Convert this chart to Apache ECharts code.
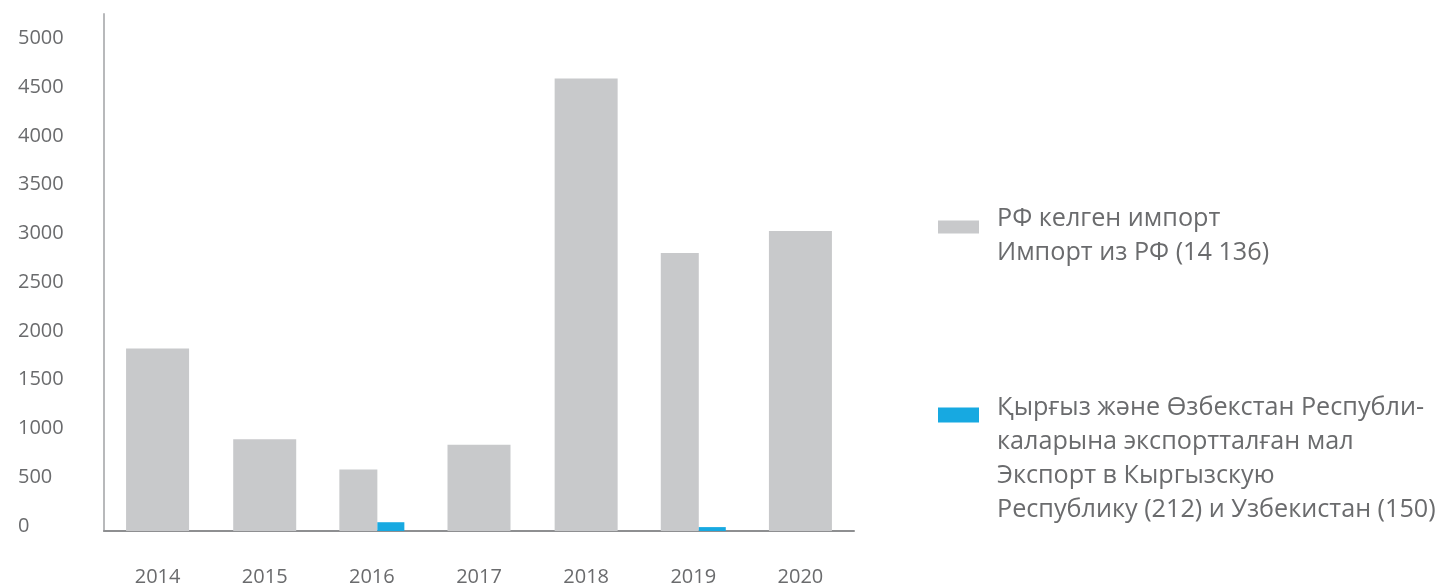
<!DOCTYPE html>
<html>
<head>
<meta charset="utf-8">
<script src="https://cdn.jsdelivr.net/npm/echarts@6/dist/echarts.min.js"></script>
<style>
  html, body { margin: 0; padding: 0; background: #ffffff; }
  #chart { width: 1442px; height: 587px; }
</style>
</head>
<body>
<div id="chart"></div>
<script>
// ---- data ----
const years = ['2014', '2015', '2016', '2017', '2018', '2019', '2020'];
const importValues = [1870, 940, 630, 885, 4640, 2850, 3075];
const exportValues = [null, null, 90, null, null, 40, null];
const yTicks = [0, 500, 1000, 1500, 2000, 2500, 3000, 3500, 4000, 4500, 5000];
const importName = 'РФ келген импорт\nИмпорт из РФ (14 136)';
const exportName = 'Қырғыз және Өзбекстан Республи-\nкаларына экспортталған мал\nЭкспорт в Кыргызскую\nРеспублику (212) и Узбекистан (150)';

// split import values: single bars vs. bars paired with an export bar
const importSingle = importValues.map((v, i) => exportValues[i] == null ? v : null);
const importPaired = importValues.map((v, i) => exportValues[i] != null ? v : null);

const FONT = '"Open Sans", "Noto Sans", sans-serif';
const TEXT = '#6a6b6d';
const GRAY = '#c8c9cb';
const BLUE = '#17a9e1';
const LEG_FS = 25.2;
const LEG_LH = 34;

function richLines(name) {
  return name.split('\n').map(s => '{t|' + s + '}').join('\n');
}
const legendRich = { t: { fontFamily: FONT, fontSize: LEG_FS, lineHeight: LEG_LH, color: TEXT } };

const chart = echarts.init(document.getElementById('chart'), null, { renderer: 'canvas' });
chart.setOption({
  animation: false,
  backgroundColor: '#ffffff',
  textStyle: { fontFamily: FONT },
  grid: { left: 104, right: 588, top: 14, bottom: 52, containLabel: false },
  legend: [
    {
      data: [importName],
      left: 938,
      top: 206.5,
      orient: 'vertical',
      padding: 0,
      itemWidth: 41,
      itemHeight: 13,
      selectedMode: false,
      icon: 'rect',
      formatter: richLines,
      textStyle: { fontFamily: FONT, fontSize: LEG_FS, color: TEXT, padding: [18, 0, 0, 13], rich: legendRich }
    },
    {
      data: [exportName],
      left: 938,
      top: 395.5,
      orient: 'vertical',
      padding: 0,
      itemWidth: 41,
      itemHeight: 15,
      selectedMode: false,
      icon: 'rect',
      formatter: richLines,
      textStyle: { fontFamily: FONT, fontSize: LEG_FS, color: TEXT, padding: [88, 0, 0, 13], rich: legendRich }
    }
  ],
  xAxis: [
    {
      type: 'category',
      data: years,
      axisLine: { show: true, lineStyle: { color: '#8e8f91', width: 2 } },
      axisTick: { show: false },
      axisLabel: { fontFamily: FONT, fontSize: 20, color: TEXT, margin: 36 }
    },
    {
      type: 'category',
      data: years,
      position: 'bottom',
      show: false
    }
  ],
  yAxis: {
    type: 'value',
    min: 0,
    max: 5300,
    interval: 500,
    splitLine: { show: false },
    axisTick: { show: false },
    axisLine: { show: true, lineStyle: { color: '#b8b9bb', width: 2 } },
    axisLabel: {
      showMaxLabel: false,
      fontFamily: FONT, fontSize: 20, color: TEXT,
      align: 'left', margin: 86,
      verticalAlign: 'bottom', lineHeight: 10,
      formatter: v => (yTicks.indexOf(v) >= 0 ? String(v) : '')
    }
  },
  series: [
    {
      name: importName,
      type: 'bar',
      xAxisIndex: 0,
      data: importSingle,
      barWidth: 63,
      itemStyle: { color: GRAY }
    },
    {
      name: importName,
      type: 'bar',
      xAxisIndex: 1,
      data: importPaired,
      barWidth: 38,
      barGap: '0%',
      itemStyle: { color: GRAY }
    },
    {
      name: exportName,
      type: 'bar',
      xAxisIndex: 1,
      data: exportValues,
      barWidth: 27,
      barGap: '0%',
      itemStyle: { color: BLUE }
    }
  ]
});
</script>
</body>
</html>
